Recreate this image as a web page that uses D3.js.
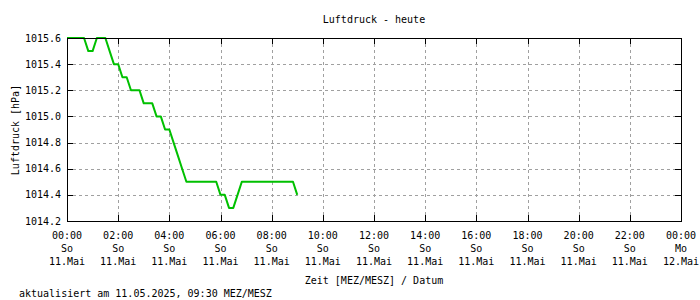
<!DOCTYPE html>
<html>
<head>
<meta charset="utf-8">
<script src="https://cdn.jsdelivr.net/npm/d3@7"></script>
<style>
html,body{margin:0;padding:0;background:#fff;}
svg{display:block;}
text{font-family:"DejaVu Sans Mono",monospace;font-size:10px;fill:#000;}
</style>
</head>
<body>
<svg id="chart" width="700" height="300"></svg>
<script>
// ---- data ----
const times = ["00:00","00:10","00:20","00:30","00:40","00:50","01:00","01:10","01:20","01:30",
  "01:40","01:50","02:00","02:10","02:20","02:30","02:40","02:50","03:00","03:10",
  "03:20","03:30","03:40","03:50","04:00","04:10","04:20","04:30","04:40","04:50",
  "05:00","05:10","05:20","05:30","05:40","05:50","06:00","06:10","06:20","06:30",
  "06:40","06:50","07:00","07:10","07:20","07:30","07:40","07:50","08:00","08:10",
  "08:20","08:30","08:40","08:50","09:00"];
const pressure = [1015.6,1015.6,1015.6,1015.6,1015.6,1015.5,1015.5,1015.6,1015.6,1015.6,
  1015.5,1015.4,1015.4,1015.3,1015.3,1015.2,1015.2,1015.2,1015.1,1015.1,
  1015.1,1015.0,1015.0,1014.9,1014.9,1014.8,1014.7,1014.6,1014.5,1014.5,
  1014.5,1014.5,1014.5,1014.5,1014.5,1014.5,1014.4,1014.4,1014.3,1014.3,
  1014.4,1014.5,1014.5,1014.5,1014.5,1014.5,1014.5,1014.5,1014.5,1014.5,
  1014.5,1014.5,1014.5,1014.5,1014.4];
const xTickHours = [0,2,4,6,8,10,12,14,16,18,20,22,24];
const xTickTime = ["00:00","02:00","04:00","06:00","08:00","10:00","12:00","14:00","16:00","18:00","20:00","22:00","00:00"];
const xTickDay  = ["So","So","So","So","So","So","So","So","So","So","So","So","Mo"];
const xTickDate = ["11.Mai","11.Mai","11.Mai","11.Mai","11.Mai","11.Mai","11.Mai","11.Mai","11.Mai","11.Mai","11.Mai","11.Mai","12.Mai"];
const yTicks = [1014.2,1014.4,1014.6,1014.8,1015.0,1015.2,1015.4,1015.6];
const title = "Luftdruck - heute";
const yLabel = "Luftdruck [hPa]";
const xLabel = "Zeit [MEZ/MESZ] / Datum";
const footer = "aktualisiert am 11.05.2025, 09:30 MEZ/MESZ";

// ---- layout ----
const L = 67, R = 681, T = 38, B = 221;
const svg = d3.select("#chart");
const x = d3.scaleLinear().domain([0, 24]).range([L, R]);
const y = d3.scaleLinear().domain([1014.2, 1015.6]).range([B, T]);

const toHours = s => { const [h, m] = s.split(":").map(Number); return h + m / 60; };
const data = times.map((t, i) => ({ t: toHours(t), v: pressure[i] }));

// grid
const grid = svg.append("g").attr("stroke", "#a0a0a0").attr("stroke-width", 1)
  .attr("stroke-dasharray", "3,3").attr("shape-rendering", "crispEdges");
grid.selectAll(".gx").data(xTickHours.slice(1, -1)).join("line")
  .attr("x1", d => Math.round(x(d)) + 0.5).attr("x2", d => Math.round(x(d)) + 0.5)
  .attr("y1", T).attr("y2", B);
grid.selectAll(".gy").data(yTicks.slice(1, -1)).join("line")
  .attr("x1", L).attr("x2", R)
  .attr("y1", d => Math.round(y(d)) + 0.5).attr("y2", d => Math.round(y(d)) + 0.5);

// inward ticks
const ticks = svg.append("g").attr("stroke", "#000").attr("stroke-width", 1).attr("shape-rendering", "crispEdges");
xTickHours.forEach(h => {
  const px = Math.round(x(h)) + 0.5;
  ticks.append("line").attr("x1", px).attr("x2", px).attr("y1", B).attr("y2", B - 6);
  ticks.append("line").attr("x1", px).attr("x2", px).attr("y1", T).attr("y2", T + 6);
});
yTicks.forEach(v => {
  const py = Math.round(y(v)) + 0.5;
  ticks.append("line").attr("x1", L).attr("x2", L + 6).attr("y1", py).attr("y2", py);
  ticks.append("line").attr("x1", R).attr("x2", R - 6).attr("y1", py).attr("y2", py);
});

// data line
const line = d3.line().x(d => x(d.t)).y(d => y(d.v));
svg.append("path").datum(data).attr("d", line)
  .attr("fill", "none").attr("stroke", "#00c000").attr("stroke-width", 2)
  .attr("stroke-linejoin", "round");

// frame
svg.append("rect").attr("x", L + 0.5).attr("y", T + 0.5).attr("width", R - L).attr("height", B - T)
  .attr("fill", "none").attr("stroke", "#000").attr("stroke-width", 1.2).attr("shape-rendering", "crispEdges");

// y tick labels
svg.append("g").selectAll("text").data(yTicks).join("text")
  .attr("x", 61).attr("y", d => y(d) + 3.5).attr("text-anchor", "end")
  .text(d => d.toFixed(1));

// x tick labels
const xl = svg.append("g");
xTickHours.forEach((h, i) => {
  const g = xl.append("text").attr("text-anchor", "middle");
  g.append("tspan").attr("x", x(h)).attr("y", 239).text(xTickTime[i]);
  g.append("tspan").attr("x", x(h)).attr("y", 252).text(xTickDay[i]);
  g.append("tspan").attr("x", x(h)).attr("y", 265).text(xTickDate[i]);
});

// titles
svg.append("text").attr("x", 374).attr("y", 23).attr("text-anchor", "middle").text(title);
svg.append("text").attr("transform", "translate(19,130) rotate(-90)").attr("text-anchor", "middle").text(yLabel);
svg.append("text").attr("x", 374).attr("y", 284).attr("text-anchor", "middle").text(xLabel);
svg.append("text").attr("x", 19).attr("y", 297).text(footer);
</script>
</body>
</html>
